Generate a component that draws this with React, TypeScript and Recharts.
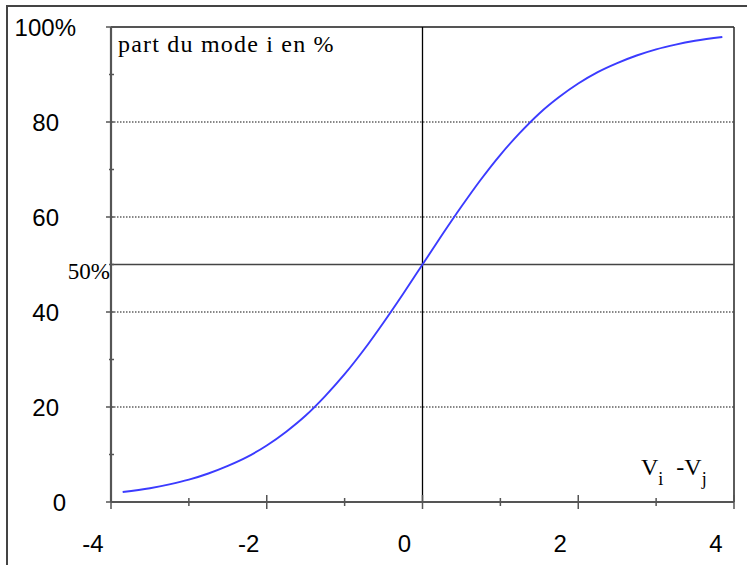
import { LineChart, Line, XAxis, YAxis, ReferenceLine } from 'recharts'

// utility difference Vi - Vj and share of mode i (%)
const diff = [-3.85, -3.5, -3.25, -3, -2.75, -2.5, -2.25, -2, -1.75, -1.5, -1.25, -1, -0.75, -0.5, -0.25, 0,
  0.25, 0.5, 0.75, 1, 1.25, 1.5, 1.75, 2, 2.25, 2.5, 2.75, 3, 3.25, 3.5, 3.85]
const share = [2.1, 2.9, 3.7, 4.7, 6.0, 7.6, 9.5, 11.9, 14.8, 18.2, 22.3, 26.9, 32.1, 37.8, 43.8, 50,
  56.2, 62.2, 67.9, 73.1, 77.7, 81.8, 85.2, 88.1, 90.5, 92.4, 94.0, 95.3, 96.3, 97.1, 97.9]

const xTicks = [-4, -3, -2, -1, 0, 1, 2, 3, 4]
const yTicks = [0, 10, 20, 30, 40, 50, 60, 70, 80, 90, 100]
const gridLevels = [20, 40, 60, 80]

const data = diff.map((x, i) => ({ x, share: share[i] }))

const sans = '"Liberation Sans", Arial, sans-serif'
const serif = '"Liberation Serif", "Times New Roman", serif'
const axisColor = '#555'

function XTick({ x, y, payload }: any) {
  const v = payload.value as number
  const major = v % 2 === 0
  const h = major ? 7 : 4
  return (
    <g>
      <line x1={x} x2={x} y1={y - h} y2={y + h} stroke={axisColor} strokeWidth={1.5} />
      {major && (
        <text x={x - 18} y={y + 50} textAnchor="middle" fontFamily={sans} fontSize={24} fill="#000">
          {v}
        </text>
      )}
    </g>
  )
}

// label right edges differ a little in the original
const yLabelEnd: Record<number, number> = { 0: -45, 20: -52, 40: -52, 60: -52, 80: -52, 100: -35 }

function YTick({ x, y, payload }: any) {
  const v = payload.value as number
  const major = v % 20 === 0
  return (
    <g>
      <line x1={x - (major ? 5 : 2)} x2={x + 3} y1={y} y2={y} stroke={axisColor} strokeWidth={1.5} />
      {major && (
        <text x={x + yLabelEnd[v]} y={y} dy="0.36em" textAnchor="end" fontFamily={sans} fontSize={24} fill="#000">
          {v === 100 ? '100%' : v}
        </text>
      )}
    </g>
  )
}

export default function App() {
  return (
    <div style={{ position: 'absolute', left: 0, top: 0, width: 747, height: 565, overflow: 'hidden', background: '#fff' }}>
      <div style={{
        position: 'absolute', left: 6, top: 5, width: 800, height: 700,
        borderLeft: '2px solid #444', borderTop: '2px solid #444',
      }} />
      <LineChart width={747} height={565} data={data} margin={{ top: 27, right: 13, bottom: 0, left: 0 }}
        style={{ position: 'absolute', left: 0, top: 0 }}>
        <XAxis
          dataKey="x"
          type="number"
          domain={[-4, 4]}
          ticks={xTicks}
          height={63}
          tickSize={0}
          tickMargin={0}
          tickLine={false}
          tick={<XTick />}
          axisLine={{ stroke: axisColor, strokeWidth: 2.2 }}
          interval={0}
        />
        <YAxis
          type="number"
          domain={[0, 100]}
          ticks={yTicks}
          width={111}
          tickSize={0}
          tickMargin={0}
          tickLine={false}
          tick={<YTick />}
          axisLine={{ stroke: axisColor, strokeWidth: 2.2 }}
          interval={0}
        />
        {gridLevels.map(g => (
          <ReferenceLine key={g} y={g} stroke="#111" strokeDasharray="1.5 1.5" strokeWidth={1.2} />
        ))}
        <ReferenceLine y={100} stroke={axisColor} strokeWidth={2.2} />
        <ReferenceLine x={4} stroke="#333" strokeWidth={1.6} />
        <ReferenceLine
          y={50}
          stroke="#444"
          strokeWidth={1.7}
          label={{ value: '50%', position: 'left', offset: 1, dy: 6, fill: '#000', fontSize: 23, fontFamily: serif }}
        />
        <ReferenceLine x={0} stroke="#000" strokeWidth={1.3} />
        <Line
          type="monotone"
          dataKey="share"
          stroke="#3b3bff"
          strokeWidth={1.9}
          dot={false}
          isAnimationActive={false}
        />
      </LineChart>
      <svg width={747} height={565} style={{ position: 'absolute', left: 0, top: 0, pointerEvents: 'none' }}>
        <text x={118} y={52} fontFamily={serif} fontSize={24} letterSpacing={1.2} fill="#000">
          part du mode i en %
        </text>
        <text x={641} y={475} fontFamily={serif} fontSize={24} fill="#000">
          V<tspan fontSize={18} dy={10}>i</tspan>
          <tspan dy={-10} dx={13}>-V</tspan>
          <tspan fontSize={18} dy={10}>j</tspan>
        </text>
      </svg>
    </div>
  )
}
